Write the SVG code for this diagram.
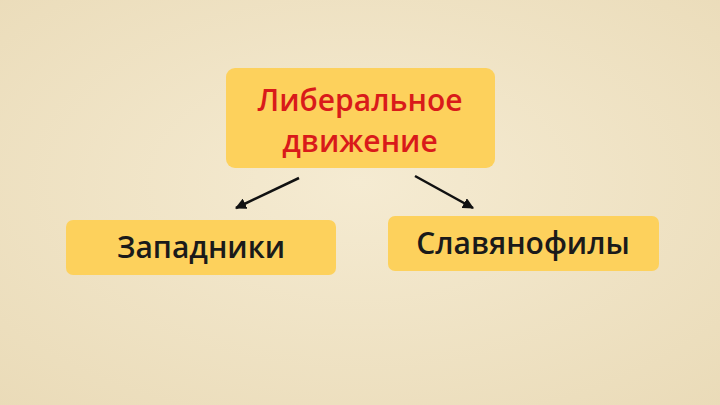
<svg xmlns="http://www.w3.org/2000/svg" width="720" height="405" viewBox="0 0 720 405">
<defs>
<style>
.box{fill:#FDD15C;}
.t{font-family:"Open Sans","DejaVu Sans",sans-serif;font-size:30px;font-weight:600;text-anchor:middle;}
.red{fill:#D91A1A;}
.blk{fill:#1A1A1A;}
.conn{stroke:#111;stroke-width:2.5;fill:none;marker-end:url(#ah);}
</style>
<marker id="ah" viewBox="0 0 10 10" refX="9" refY="5" markerWidth="4.5" markerHeight="4.5" orient="auto" markerUnits="strokeWidth">
<path d="M0,0 L10,5 L0,10 Z" fill="#111"/>
</marker>
<radialGradient id="bg" cx="50%" cy="45%" r="75%">
<stop offset="0" stop-color="#F5EBD2"/>
<stop offset="1" stop-color="#EADBB8"/>
</radialGradient>
</defs>
<rect width="720" height="405" fill="url(#bg)"/>
<g id="connectors">
<line class="conn" x1="299" y1="178" x2="236" y2="208"/>
<line class="conn" x1="415" y1="176" x2="473" y2="208"/>
</g>
<g id="node-liberal">
<rect class="box" x="226" y="68" width="269" height="100" rx="9"/>
<text class="t red" x="360" y="111">Либеральное</text>
<text class="t red" x="360" y="152">движение</text>
</g>
<g id="node-zapadniki">
<rect class="box" x="66" y="220" width="270" height="55" rx="7"/>
<text class="t blk" x="201" y="258">Западники</text>
</g>
<g id="node-slavyanofily">
<rect class="box" x="388" y="216" width="271" height="55" rx="7"/>
<text class="t blk" x="523" y="254">Славянофилы</text>
</g>
</svg>
